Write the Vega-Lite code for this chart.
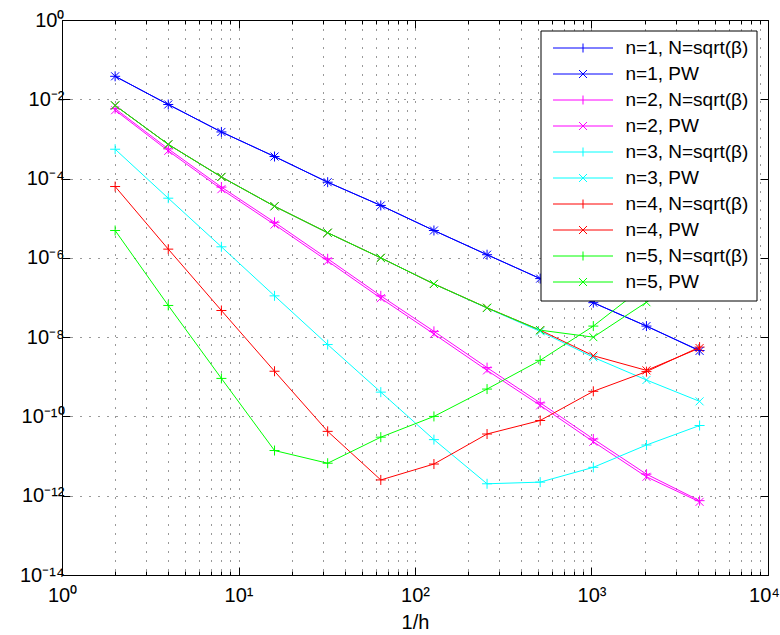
{
  "$schema": "https://vega.github.io/schema/vega-lite/v6.json",
  "width": 706,
  "height": 555,
  "autosize": {"type": "none"},
  "padding": {"left": 62, "top": 20, "right": 12, "bottom": 60},
  "background": "white",
  "config": {
    "view": {"stroke": "black", "strokeWidth": 1},
    "font": "Liberation Sans",
    "axis": {
      "domainColor": "black",
      "tickColor": "black",
      "labelColor": "black",
      "titleColor": "black",
      "labelFont": "Liberation Sans",
      "titleFont": "Liberation Sans",
      "labelFontSize": 20,
      "titleFontSize": 20,
      "titleFontWeight": "normal",
      "gridColor": "black",
      "gridOpacity": 0.8,
      "gridDash": [1, 8],
      "gridWidth": 1
    },
    "legend": {
      "orient": "none",
      "legendX": 478.5,
      "legendY": 10.5,
      "padding": 8,
      "fillColor": "white",
      "strokeColor": "black",
      "strokeWidth": 1,
      "labelFont": "Liberation Sans",
      "labelFontSize": 19,
      "labelColor": "black",
      "labelLimit": 400,
      "rowPadding": 6,
      "symbolSize": 100,
      "symbolOffset": 25,
      "labelOffset": 33,
      "symbolStrokeWidth": 1,
      "symbolFillColor": "transparent",
      "cornerRadius": 0
    }
  },
  "data": {"values": [
    {"s": "n=1, N=sqrt(β)", "x": 2, "y": 3.8e-2},
    {"s": "n=1, N=sqrt(β)", "x": 4, "y": 7.4e-3},
    {"s": "n=1, N=sqrt(β)", "x": 8, "y": 1.5e-3},
    {"s": "n=1, N=sqrt(β)", "x": 16, "y": 3.6e-4},
    {"s": "n=1, N=sqrt(β)", "x": 32, "y": 8.1e-5},
    {"s": "n=1, N=sqrt(β)", "x": 64, "y": 2.1e-5},
    {"s": "n=1, N=sqrt(β)", "x": 128, "y": 4.9e-6},
    {"s": "n=1, N=sqrt(β)", "x": 256, "y": 1.2e-6},
    {"s": "n=1, N=sqrt(β)", "x": 512, "y": 3.0e-7},
    {"s": "n=1, N=sqrt(β)", "x": 1024, "y": 7.4e-8},
    {"s": "n=1, N=sqrt(β)", "x": 2048, "y": 1.9e-8},
    {"s": "n=1, N=sqrt(β)", "x": 4096, "y": 4.6e-9},
    {"s": "n=1, PW", "x": 2, "y": 3.8e-2},
    {"s": "n=1, PW", "x": 4, "y": 7.4e-3},
    {"s": "n=1, PW", "x": 8, "y": 1.5e-3},
    {"s": "n=1, PW", "x": 16, "y": 3.6e-4},
    {"s": "n=1, PW", "x": 32, "y": 8.1e-5},
    {"s": "n=1, PW", "x": 64, "y": 2.1e-5},
    {"s": "n=1, PW", "x": 128, "y": 4.9e-6},
    {"s": "n=1, PW", "x": 256, "y": 1.2e-6},
    {"s": "n=1, PW", "x": 512, "y": 3.0e-7},
    {"s": "n=1, PW", "x": 1024, "y": 7.4e-8},
    {"s": "n=1, PW", "x": 2048, "y": 1.9e-8},
    {"s": "n=1, PW", "x": 4096, "y": 4.5e-9},
    {"s": "n=2, N=sqrt(β)", "x": 2, "y": 5.8e-3},
    {"s": "n=2, N=sqrt(β)", "x": 4, "y": 5.6e-4},
    {"s": "n=2, N=sqrt(β)", "x": 8, "y": 6.1e-5},
    {"s": "n=2, N=sqrt(β)", "x": 16, "y": 7.9e-6},
    {"s": "n=2, N=sqrt(β)", "x": 32, "y": 9.5e-7},
    {"s": "n=2, N=sqrt(β)", "x": 64, "y": 1.1e-7},
    {"s": "n=2, N=sqrt(β)", "x": 128, "y": 1.4e-8},
    {"s": "n=2, N=sqrt(β)", "x": 256, "y": 1.7e-9},
    {"s": "n=2, N=sqrt(β)", "x": 512, "y": 2.2e-10},
    {"s": "n=2, N=sqrt(β)", "x": 1024, "y": 2.7e-11},
    {"s": "n=2, N=sqrt(β)", "x": 2048, "y": 3.5e-12},
    {"s": "n=2, N=sqrt(β)", "x": 4096, "y": 7.5e-13},
    {"s": "n=2, PW", "x": 2, "y": 5.3e-3},
    {"s": "n=2, PW", "x": 4, "y": 5.0e-4},
    {"s": "n=2, PW", "x": 8, "y": 5.4e-5},
    {"s": "n=2, PW", "x": 16, "y": 6.9e-6},
    {"s": "n=2, PW", "x": 32, "y": 8.3e-7},
    {"s": "n=2, PW", "x": 64, "y": 9.6e-8},
    {"s": "n=2, PW", "x": 128, "y": 1.2e-8},
    {"s": "n=2, PW", "x": 256, "y": 1.45e-9},
    {"s": "n=2, PW", "x": 512, "y": 1.9e-10},
    {"s": "n=2, PW", "x": 1024, "y": 2.3e-11},
    {"s": "n=2, PW", "x": 2048, "y": 3.0e-12},
    {"s": "n=2, PW", "x": 4096, "y": 7.0e-13},
    {"s": "n=3, N=sqrt(β)", "x": 2, "y": 5.5e-4},
    {"s": "n=3, N=sqrt(β)", "x": 4, "y": 3.2e-5},
    {"s": "n=3, N=sqrt(β)", "x": 8, "y": 1.9e-6},
    {"s": "n=3, N=sqrt(β)", "x": 16, "y": 1.1e-7},
    {"s": "n=3, N=sqrt(β)", "x": 32, "y": 6.5e-9},
    {"s": "n=3, N=sqrt(β)", "x": 64, "y": 4.1e-10},
    {"s": "n=3, N=sqrt(β)", "x": 128, "y": 2.6e-11},
    {"s": "n=3, N=sqrt(β)", "x": 256, "y": 2.0e-12},
    {"s": "n=3, N=sqrt(β)", "x": 512, "y": 2.2e-12},
    {"s": "n=3, N=sqrt(β)", "x": 1024, "y": 5.2e-12},
    {"s": "n=3, N=sqrt(β)", "x": 2048, "y": 1.9e-11},
    {"s": "n=3, N=sqrt(β)", "x": 4096, "y": 5.9e-11},
    {"s": "n=3, PW", "x": 2, "y": 7.0e-3},
    {"s": "n=3, PW", "x": 4, "y": 7.3e-4},
    {"s": "n=3, PW", "x": 8, "y": 1.1e-4},
    {"s": "n=3, PW", "x": 16, "y": 2.0e-5},
    {"s": "n=3, PW", "x": 32, "y": 4.3e-6},
    {"s": "n=3, PW", "x": 64, "y": 1.0e-6},
    {"s": "n=3, PW", "x": 128, "y": 2.2e-7},
    {"s": "n=3, PW", "x": 256, "y": 5.4e-8},
    {"s": "n=3, PW", "x": 512, "y": 1.4e-8},
    {"s": "n=3, PW", "x": 1024, "y": 3.1e-9},
    {"s": "n=3, PW", "x": 2048, "y": 8.3e-10},
    {"s": "n=3, PW", "x": 4096, "y": 2.4e-10},
    {"s": "n=4, N=sqrt(β)", "x": 2, "y": 6.3e-5},
    {"s": "n=4, N=sqrt(β)", "x": 4, "y": 1.66e-6},
    {"s": "n=4, N=sqrt(β)", "x": 8, "y": 4.7e-8},
    {"s": "n=4, N=sqrt(β)", "x": 16, "y": 1.38e-9},
    {"s": "n=4, N=sqrt(β)", "x": 32, "y": 4.2e-11},
    {"s": "n=4, N=sqrt(β)", "x": 64, "y": 2.5e-12},
    {"s": "n=4, N=sqrt(β)", "x": 128, "y": 6.3e-12},
    {"s": "n=4, N=sqrt(β)", "x": 256, "y": 3.6e-11},
    {"s": "n=4, N=sqrt(β)", "x": 512, "y": 7.9e-11},
    {"s": "n=4, N=sqrt(β)", "x": 1024, "y": 4.3e-10},
    {"s": "n=4, N=sqrt(β)", "x": 2048, "y": 1.35e-9},
    {"s": "n=4, N=sqrt(β)", "x": 4096, "y": 5.6e-9},
    {"s": "n=4, PW", "x": 2, "y": 7.0e-3},
    {"s": "n=4, PW", "x": 4, "y": 7.3e-4},
    {"s": "n=4, PW", "x": 8, "y": 1.1e-4},
    {"s": "n=4, PW", "x": 16, "y": 2.0e-5},
    {"s": "n=4, PW", "x": 32, "y": 4.3e-6},
    {"s": "n=4, PW", "x": 64, "y": 1.0e-6},
    {"s": "n=4, PW", "x": 128, "y": 2.2e-7},
    {"s": "n=4, PW", "x": 256, "y": 5.5e-8},
    {"s": "n=4, PW", "x": 512, "y": 1.5e-8},
    {"s": "n=4, PW", "x": 1024, "y": 3.4e-9},
    {"s": "n=4, PW", "x": 2048, "y": 1.45e-9},
    {"s": "n=4, PW", "x": 4096, "y": 5.3e-9},
    {"s": "n=5, N=sqrt(β)", "x": 2, "y": 4.9e-6},
    {"s": "n=5, N=sqrt(β)", "x": 4, "y": 6.3e-8},
    {"s": "n=5, N=sqrt(β)", "x": 8, "y": 9.1e-10},
    {"s": "n=5, N=sqrt(β)", "x": 16, "y": 1.38e-11},
    {"s": "n=5, N=sqrt(β)", "x": 32, "y": 6.6e-12},
    {"s": "n=5, N=sqrt(β)", "x": 64, "y": 3.0e-11},
    {"s": "n=5, N=sqrt(β)", "x": 128, "y": 1.0e-10},
    {"s": "n=5, N=sqrt(β)", "x": 256, "y": 4.9e-10},
    {"s": "n=5, N=sqrt(β)", "x": 512, "y": 2.6e-9},
    {"s": "n=5, N=sqrt(β)", "x": 1024, "y": 1.9e-8},
    {"s": "n=5, N=sqrt(β)", "x": 2048, "y": 2.1e-7},
    {"s": "n=5, N=sqrt(β)", "x": 4096, "y": 2.0e-6},
    {"s": "n=5, PW", "x": 2, "y": 7.0e-3},
    {"s": "n=5, PW", "x": 4, "y": 7.3e-4},
    {"s": "n=5, PW", "x": 8, "y": 1.1e-4},
    {"s": "n=5, PW", "x": 16, "y": 2.0e-5},
    {"s": "n=5, PW", "x": 32, "y": 4.3e-6},
    {"s": "n=5, PW", "x": 64, "y": 1.0e-6},
    {"s": "n=5, PW", "x": 128, "y": 2.2e-7},
    {"s": "n=5, PW", "x": 256, "y": 5.5e-8},
    {"s": "n=5, PW", "x": 512, "y": 1.5e-8},
    {"s": "n=5, PW", "x": 1024, "y": 1.0e-8},
    {"s": "n=5, PW", "x": 2048, "y": 7.6e-8},
    {"s": "n=5, PW", "x": 4096, "y": 6.0e-7}
  ]},
  "resolve": {"axis": {"x": "independent", "y": "independent"}},
  "layer": [
    {
      "mark": {"type": "line", "strokeWidth": 1, "clip": true},
      "encoding": {
        "x": {
          "field": "x", "type": "quantitative",
          "scale": {"type": "log", "domain": [1, 10000], "nice": false},
          "axis": {
            "orient": "bottom",
            "values": [1,2,3,4,5,6,7,8,9,10,20,30,40,50,60,70,80,90,100,200,300,400,500,600,700,800,900,1000,2000,3000,4000,5000,6000,7000,8000,9000,10000],
            "labelExpr": "datum.value==1?'10⁰':datum.value==10?'10¹':datum.value==100?'10²':datum.value==1000?'10³':datum.value==10000?'10⁴':''",
            "labelOverlap": false,
            "labelFlush": false,
            "labelBound": false,
            "labelOffset": {"condition": {"test": "datum.value == 10000", "value": -4}, "value": 0},
            "grid": true,
            "tickSize": {"condition": {"test": "indexof([1,10,100,1000,10000], datum.value) >= 0", "value": -8}, "value": -4},
            "labelPadding": 18,
            "title": "1/h",
            "titlePadding": 3
          }
        },
        "y": {
          "field": "y", "type": "quantitative",
          "scale": {"type": "log", "domain": [1e-14, 1], "nice": false},
          "axis": {
            "orient": "left",
            "values": [1, 1e-2, 1e-4, 1e-6, 1e-8, 1e-10, 1e-12, 1e-14],
            "labelExpr": "datum.value==1?'10⁰':datum.value==1e-2?'10⁻²':datum.value==1e-4?'10⁻⁴':datum.value==1e-6?'10⁻⁶':datum.value==1e-8?'10⁻⁸':datum.value==1e-10?'10⁻¹⁰':datum.value==1e-12?'10⁻¹²':'10⁻¹⁴'",
            "labelOverlap": false,
            "labelFlush": false,
            "grid": true,
            "tickSize": -8,
            "labelPadding": 6,
            "title": null
          }
        },
        "color": {
          "field": "s", "type": "nominal",
          "scale": {
            "domain": ["n=1, N=sqrt(β)", "n=1, PW", "n=2, N=sqrt(β)", "n=2, PW", "n=3, N=sqrt(β)", "n=3, PW", "n=4, N=sqrt(β)", "n=4, PW", "n=5, N=sqrt(β)", "n=5, PW"],
            "range": ["#0000ff", "#0000ff", "#ff00ff", "#ff00ff", "#00ffff", "#00ffff", "#ff0000", "#ff0000", "#00ff00", "#00ff00"]
          },
          "legend": {
            "title": null,
            "encode": {
              "symbols": {
                "update": {
                  "shape": {"signal": "indexof(datum.label, 'PW') >= 0 ? 'M-6,0H6M-0.8,-0.8L0.8,0.8M-0.8,0.8L0.8,-0.8' : 'M-6,0H6M0,-0.9V0.9'"},
                  "fill": {"value": "transparent"},
                  "strokeWidth": {"value": 1},
                  "opacity": {"value": 1}
                }
              }
            }
          }
        },
        "order": {"field": "x", "type": "quantitative"}
      }
    },
    {
      "transform": [{"filter": "indexof(datum.s, 'PW') < 0"}],
      "mark": {"type": "point", "shape": "M-1,0H1M0,-1V1", "filled": false, "size": 100, "strokeWidth": 1, "opacity": 1, "clip": true},
      "encoding": {
        "x": {
          "field": "x", "type": "quantitative",
          "axis": {
            "orient": "top",
            "values": [1,2,3,4,5,6,7,8,9,10,20,30,40,50,60,70,80,90,100,200,300,400,500,600,700,800,900,1000,2000,3000,4000,5000,6000,7000,8000,9000,10000],
            "labels": false,
            "grid": false,
            "domain": false,
            "tickSize": {"condition": {"test": "indexof([1,10,100,1000,10000], datum.value) >= 0", "value": -8}, "value": -4},
            "title": null
          }
        },
        "y": {
          "field": "y", "type": "quantitative",
          "axis": {
            "orient": "right",
            "values": [1, 1e-2, 1e-4, 1e-6, 1e-8, 1e-10, 1e-12, 1e-14],
            "labels": false,
            "grid": false,
            "domain": false,
            "tickSize": -8,
            "title": null
          }
        },
        "color": {"field": "s", "type": "nominal", "legend": null}
      }
    },
    {
      "transform": [{"filter": "indexof(datum.s, 'PW') >= 0"}],
      "mark": {"type": "point", "shape": "M-0.8,-0.8L0.8,0.8M-0.8,0.8L0.8,-0.8", "filled": false, "size": 100, "strokeWidth": 1, "opacity": 1, "clip": true},
      "encoding": {
        "x": {"field": "x", "type": "quantitative", "axis": null},
        "y": {"field": "y", "type": "quantitative", "axis": null},
        "color": {"field": "s", "type": "nominal", "legend": null}
      }
    }
  ]
}
